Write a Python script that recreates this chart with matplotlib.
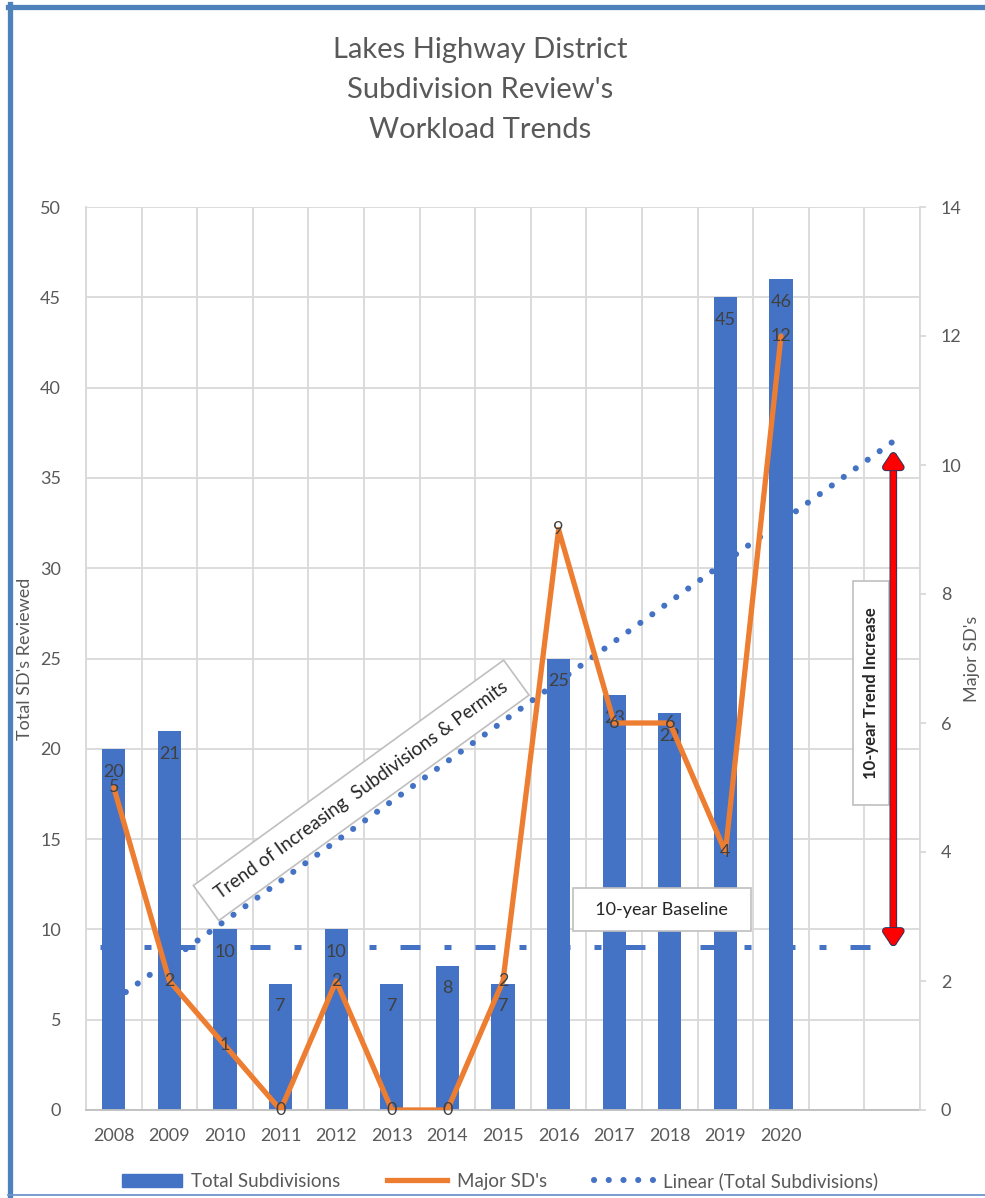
import numpy as np
import matplotlib
matplotlib.use('Agg')
import matplotlib.pyplot as plt
from matplotlib.lines import Line2D
from matplotlib.patches import Rectangle
import matplotlib.patheffects as pe

# chart data
years = ['2008', '2009', '2010', '2011', '2012', '2013', '2014',
         '2015', '2016', '2017', '2018', '2019', '2020', '', '']
total_subdivisions = [20, 21, 10, 7, 10, 7, 8, 7, 25, 23, 22, 45, 46]
major_sds = [5, 2, 1, 0, 2, 0, 0, 2, 9, 6, 6, 4, 12]
baseline_value = 9
arrow_top = 36.5

BLUE = '#4472C4'
ORANGE = '#ED7D31'
GREY_TXT = '#595959'
GRID = '#D9D9D9'

plt.rcParams['font.family'] = ['Lato', 'DejaVu Sans']

W, H = 985, 1198
fig = plt.figure(figsize=(W / 100, H / 100), dpi=100)
ax = fig.add_axes([86 / W, (H - 1110) / H, 834 / W, 903 / H])
ax2 = ax.twinx()

n = len(years)
x_all = np.arange(n)
x_data = np.arange(len(total_subdivisions))

# Excel style linear trendline, fitted on the bars and carried forward
coef = np.polyfit(x_data, total_subdivisions, 1)
trend = np.polyval(coef, x_all)

ax.set_xlim(-0.5, n - 0.5)
ax.set_ylim(0, 50)
ax2.set_ylim(0, 14)

# grid
ax.set_yticks(np.arange(0, 51, 5))
ax.set_xticks(x_all)
ax.set_xticklabels(years)
ax.set_xticks(np.arange(-0.5, n, 1), minor=True)
ax.grid(axis='y', color=GRID, lw=1.3, zorder=0)
ax.grid(axis='x', which='minor', color=GRID, lw=1.3, zorder=0)
ax.grid(axis='x', which='major', visible=False)
ax.set_axisbelow(True)

for s in ['top', 'right']:
    ax.spines[s].set_visible(False)
ax.spines['left'].set_color(GRID)
ax.spines['bottom'].set_color('#BFBFBF')
ax.spines['left'].set_linewidth(1.3)
ax.spines['bottom'].set_linewidth(1.3)
for s in ['top', 'left', 'bottom']:
    ax2.spines[s].set_visible(False)
ax2.spines['right'].set_color(GRID)
ax2.spines['right'].set_linewidth(1.3)

ax.tick_params(axis='both', which='both', length=0, labelsize=13,
               labelcolor=GREY_TXT)
ax.tick_params(axis='y', pad=18)
ax.tick_params(axis='x', pad=13)
ax2.set_yticks(np.arange(0, 15, 2))
ax2.tick_params(axis='y', length=4, width=1.3, color=GRID, labelsize=13,
                labelcolor=GREY_TXT, pad=11)

ax.set_ylabel("Total SD's Reviewed", fontsize=13, color=GREY_TXT,
              ha='center', va='center')
ax.yaxis.set_label_coords((25 - 86) / 834, 0.5)
ax2.set_ylabel("Major SD's", fontsize=13, color=GREY_TXT,
               ha='center', va='center', rotation=90)
ax2.yaxis.set_label_coords((972 - 86) / 834, 0.5)

# baseline (behind the bars)
ax.plot([-0.25, 14.0], [baseline_value, baseline_value], color=BLUE, lw=3.6,
        linestyle=(0, (4, 4.8, 1.4, 4.8)), solid_capstyle='butt', zorder=1)

# trendline
ax.plot(x_all, trend, color=BLUE, lw=4.4, linestyle=(0, (0.01, 2.4)),
        dash_capstyle='round', zorder=1.5)

# bars
ax.bar(x_data, total_subdivisions, width=0.42, color=BLUE, zorder=2)
for i, v in enumerate(total_subdivisions):
    ax.annotate(str(v), (i, v), xytext=(0, -16.5), textcoords='offset points',
                ha='center', va='center', fontsize=13, color='#404040', zorder=3)

# major SD's line
ax2.plot(x_data, major_sds, color=ORANGE, lw=3.8, solid_joinstyle='round',
         solid_capstyle='round', zorder=3)
for i, v in enumerate(major_sds):
    ax2.text(i, v, str(v), ha='center', va='center', fontsize=13,
             color='#404040', zorder=4)

# annotations
ax2.text(4.45, 17.7, 'Trend of Increasing  Subdivisions & Permits',
         transform=ax.transData, rotation=36, rotation_mode='anchor',
         ha='center', va='center', fontsize=13.5, color='#262626',
         bbox=dict(boxstyle='square,pad=0.7', fc='white', ec='#BFBFBF', lw=1.2),
         zorder=6)
ax2.text(9.86, 11.1, '  10-year Baseline  ', transform=ax.transData,
         ha='center', va='center', fontsize=13, color='#262626',
         bbox=dict(boxstyle='square,pad=0.75', fc='white', ec='#BFBFBF', lw=1.2),
         zorder=6)
ax2.text(13.62, 23.1, '    10-year Trend Increase    ', transform=ax.transData,
         rotation=90, ha='center', va='center', fontsize=12, fontweight='bold',
         color='#262626',
         bbox=dict(boxstyle='square,pad=0.6', fc='white', ec='#BFBFBF', lw=1.2),
         zorder=6)
ax2.annotate('', xy=(14.02, arrow_top), xytext=(14.02, baseline_value),
             xycoords=ax.transData, textcoords=ax.transData,
             arrowprops=dict(arrowstyle='<|-|>,head_length=0.45,head_width=0.3',
                             color='#FF0000', lw=4.2, mutation_scale=18,
                             shrinkA=0, shrinkB=0,
                             path_effects=[pe.withStroke(linewidth=5.5,
                                                         foreground='#1F3864')]),
             zorder=7)

# title
for k, line in enumerate(['Lakes Highway District', "Subdivision Review's",
                          'Workload Trends']):
    fig.text(480 / W, 1 - (50 + 40 * k) / H, line, ha='center', va='center',
             fontsize=21, color=GREY_TXT)

# legend
handles = [Rectangle((0, 0), 1, 1, color=BLUE),
           Line2D([], [], color=ORANGE, lw=3.8),
           Line2D([], [], color=BLUE, lw=4.4, linestyle=(0, (0.01, 2.4)),
                  dash_capstyle='round')]
labels = ['Total Subdivisions', "Major SD's", 'Linear (Total Subdivisions)']
leg = fig.legend(handles, labels, loc='center', ncol=3,
                 bbox_to_anchor=(500 / W, 1 - 1181 / H), frameon=False,
                 fontsize=13.5, handlelength=3.2, handletextpad=0.5,
                 columnspacing=2.5)
for t in leg.get_texts():
    t.set_color(GREY_TXT)

# frame around the picture
fig.add_artist(Line2D([9.5 / W, 9.5 / W], [1 - 4 / H, 1 - 1196 / H],
                      transform=fig.transFigure, color='#4F81BD', lw=3.8))
fig.add_artist(Line2D([8 / W, 1.0], [1 - 6.5 / H, 1 - 6.5 / H],
                      transform=fig.transFigure, color='#4F81BD', lw=3.8))
fig.add_artist(Line2D([8 / W, 1.0], [1 - 1195 / H, 1 - 1195 / H],
                      transform=fig.transFigure, color='#6C95CF', lw=1.3))

fig.savefig('out.png', dpi=100)
